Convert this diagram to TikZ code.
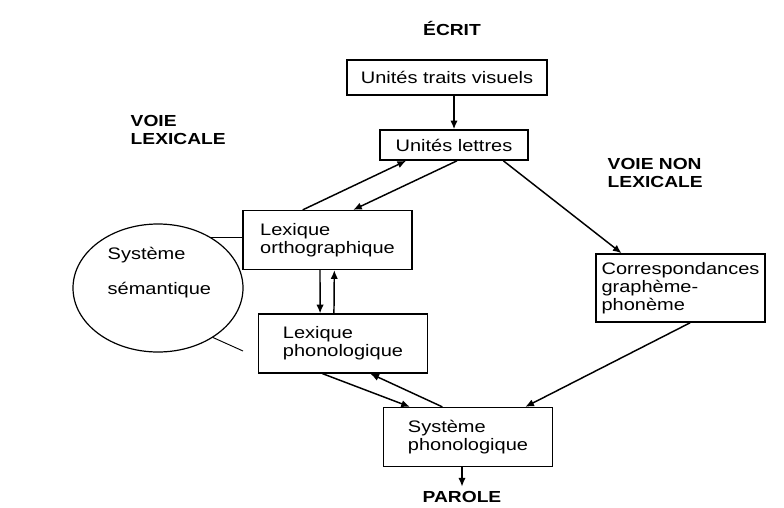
\documentclass[tikz,border=0pt]{standalone}
\usepackage{fontspec}
\setmainfont{Liberation Sans}[FakeStretch=1.2]
\usetikzlibrary{calc,shapes.geometric,arrows.meta}

\tikzset{
  box/.style={draw, line width=1.2pt, align=left, minimum width=127pt,
    minimum height=44pt, inner xsep=4pt, font=\fontsize{12.5}{13.5}\selectfont},
  topbox/.style={box, align=center},
  voie/.style={font=\fontsize{12}{13.5}\selectfont\bfseries, align=left},
  arr/.style={line width=1.1pt, -{Latex[length=6.5pt,width=5.5pt]}},
  link/.style={line width=0.7pt}
}

\begin{document}
\begin{tikzpicture}[x=0.75pt,y=-0.75pt]
    \useasboundingbox (0,0) rectangle (784,507);

    % Titles
    \node[voie] (ecrit) at (452,28) {ÉCRIT};
    \node[voie] (parole) at (462,497) {PAROLE};
    \node[voie, anchor=west] (voielex) at (126,130) {VOIE\\LEXICALE};
    \node[voie, anchor=west] (voienonlex) at (603,173) {VOIE NON\\LEXICALE};

    % Boxes
    \node[topbox, minimum width=150pt, minimum height=26pt] (traits) at (447,77.5) {Unités traits visuels};
    \node[topbox, minimum width=111pt, minimum height=22.5pt] (lettres) at (454,145) {Unités lettres};
    \node[box] (ortho) at (327.5,240) {Lexique\\orthographique};
    \node[box] (phono) at (343,343.5) {Lexique\\phonologique};
    \node[box] (sysphon) at (468,437) {Système\\phonologique};
    \node[box, minimum height=51pt] (corresp) at (680.5,288) {Correspondances\\graphème-\\phonème};

    % Semantic system
    \node[draw, ellipse, line width=0.9pt, minimum width=127.5pt, minimum height=96pt] (sem) at (158,288) {};
    \node[anchor=west, align=left, font=\fontsize{12.5}{13.5}\selectfont] (semtxt) at (103,272.5) {Système\\[12.75pt]sémantique};
    \coordinate (phonolink) at (243,351);
    \draw[link] (sem.44) -- (sem.44 -| ortho.west);
    \draw[link] (sem.-42) -- (phonolink);

    % Arrows
    \draw[arr] (lettres.north |- traits.south) -- (lettres.north);
    \draw[arr] ($(ortho.north west)!0.355!(ortho.north east)$) -- ($(lettres.south west)!0.18!(lettres.south east)$);
    \draw[arr] ($(lettres.south west)!0.52!(lettres.south east)$) -- ($(ortho.north west)!0.65!(ortho.north east)$);
    \draw[arr] ($(lettres.south west)!0.83!(lettres.south east)$) -- ($(corresp.north west)!0.155!(corresp.north east)$);
    \draw[arr] ($(corresp.south west)!0.556!(corresp.south east)$) -- ($(sysphon.north west)!0.835!(sysphon.north east)$);
    \draw[arr] ($(ortho.south west)!0.456!(ortho.south east)$) -- ($(phono.north west)!0.366!(phono.north east)$);
    \draw[arr] ($(phono.north west)!0.447!(phono.north east)$) -- ($(ortho.south west)!0.54!(ortho.south east)$);
    \draw[arr] ($(phono.south west)!0.38!(phono.south east)$) -- ($(sysphon.north west)!0.16!(sysphon.north east)$);
    \draw[arr] ($(sysphon.north west)!0.35!(sysphon.north east)$) -- ($(phono.south west)!0.66!(phono.south east)$);
    \draw[arr] (parole.north |- sysphon.south) -- (parole.north);
\end{tikzpicture}
\end{document}
